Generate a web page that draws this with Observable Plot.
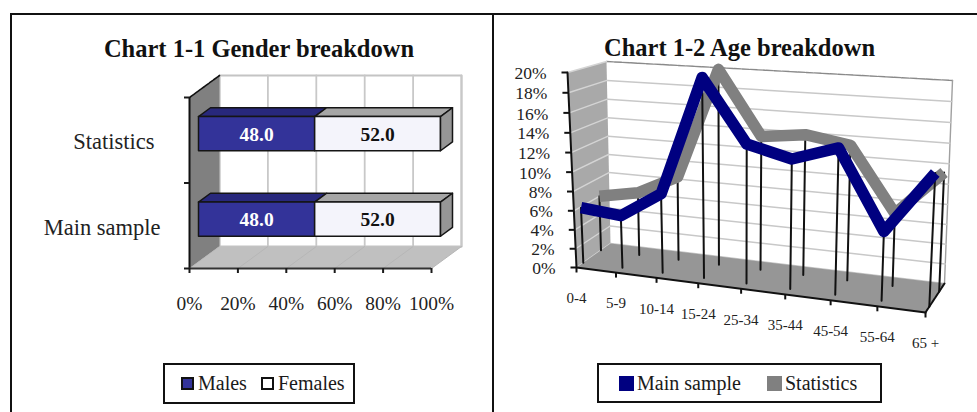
<!DOCTYPE html>
<html>
<head>
<meta charset="utf-8">
<script src="https://cdn.jsdelivr.net/npm/d3@7"></script>
<script src="https://cdn.jsdelivr.net/npm/@observablehq/plot@0.6"></script>
<style>
  html, body { margin: 0; padding: 0; background: #fff; }
  body { position: relative; width: 977px; height: 412px; overflow: hidden; font-family: "Liberation Serif", serif; color: #1a1a1a; }
  .rule { position: absolute; background: #111; }
  .panel { position: absolute; top: 0; height: 412px; }
  .panel svg { display: block; background: transparent; }
  .title { position: absolute; font-weight: bold; font-size: 24.5px; line-height: 26px; white-space: nowrap; transform: translateX(-50%); color: #111; }
  .legend { position: absolute; border: 2px solid #111; box-sizing: border-box; background: #fff; }
  .legend span { position: absolute; white-space: nowrap; font-size: 20px; line-height: 22px; }
  .legend i { position: absolute; box-sizing: border-box; display: block; }
</style>
</head>
<body>
<script>
// ---- Gender breakdown ----
const genderCategories = ["Main sample", "Statistics"];
const maleShares = [48.0, 48.0];
const femaleShares = [52.0, 52.0];
const shareTicks = [0, 20, 40, 60, 80, 100];

// ---- Age breakdown ----
const ageGroups = ["0-4", "5-9", "10-14", "15-24", "25-34", "35-44", "45-54", "55-64", "65 +"];
const mainSample = [5.9, 5.5, 8.2, 20.0, 13.9, 12.8, 14.2, 6.7, 12.6];
const statistics = [6.0, 6.8, 8.9, 20.2, 13.8, 14.3, 13.6, 7.3, 11.7];
const percentTicks = [0, 2, 4, 6, 8, 10, 12, 14, 16, 18, 20];

const serif = "Liberation Serif";

// Oblique depth for the stacked bars, expressed in axis units.
const depthX = 30 / 2.42;
const depthY = 22 / 85.5;
const px = p => p.v + p.d * depthX;
const py = p => p.c + p.d * depthY;
const face = (pts, options) => Plot.line(pts, {x: px, y: py, curve: "linear-closed", ...options});
const edge = (pts, options) => Plot.line(pts, {x: px, y: py, ...options});
const pt = (v, c, d) => ({v, c, d});

const barHalf = 0.2, barFront = 0.3, barBack = 0.7;

function barMarks(from, to, c, frontFill, topFill) {
  const lo = c - barHalf, hi = c + barHalf;
  const stroke = {stroke: "#151515", strokeWidth: 1.5, strokeLinejoin: "round"};
  return [
    face([pt(from, hi, barFront), pt(to, hi, barFront), pt(to, hi, barBack), pt(from, hi, barBack)], {fill: topFill, ...stroke}),
    face([pt(from, lo, barFront), pt(to, lo, barFront), pt(to, hi, barFront), pt(from, hi, barFront)], {fill: frontFill, ...stroke})
  ];
}

const genderMarks = [
  // back wall, side wall and floor
  face([pt(0, 0, 1), pt(100, 0, 1), pt(100, 2, 1), pt(0, 2, 1)], {fill: "#fff", stroke: "#c4c4c4", strokeWidth: 2}),
  ...shareTicks.map(t => edge([pt(t, 0, 1), pt(t, 2, 1)], {stroke: "#c8c8c8", strokeWidth: 1.8})),
  face([pt(0, 0, 0), pt(0, 0, 1), pt(0, 2, 1), pt(0, 2, 0)], {fill: "#808080"}),
  face([pt(0, 0, 0), pt(100, 0, 0), pt(100, 0, 1), pt(0, 0, 1)], {fill: "#c0c0c0"}),
  ...shareTicks.map(t => edge([pt(t, 0, 0), pt(t, 0, 1)], {stroke: "#b6b6b6", strokeWidth: 1})),
  // stacked bars
  ...genderCategories.flatMap((name, i) => {
    const c = i + 0.5, m = maleShares[i], f = femaleShares[i];
    return [
      ...barMarks(0, m, c, "#333399", "#28287c"),
      ...barMarks(m, m + f, c, "#f4f4fb", "#a6a6a6"),
      face([pt(m + f, c - barHalf, barFront), pt(m + f, c - barHalf, barBack), pt(m + f, c + barHalf, barBack), pt(m + f, c + barHalf, barFront)],
           {fill: "#969696", stroke: "#151515", strokeWidth: 1.5, strokeLinejoin: "round"}),
      Plot.text([pt(m / 2, c, barFront)], {x: px, y: py, text: () => m.toFixed(1), fill: "#fff", fontWeight: "bold", fontSize: 19.5, dy: 1}),
      Plot.text([pt(m + f / 2, c, barFront)], {x: px, y: py, text: () => f.toFixed(1), fill: "#111", fontWeight: "bold", fontSize: 19.5, dy: 1})
    ];
  }),
  // axes
  edge([pt(0, 2, 0), pt(0, 2, 1)], {stroke: "#111", strokeWidth: 1.6, strokeDasharray: "4 1"}),
  Plot.ruleX([0], {y1: 0, y2: 2, stroke: "#111", strokeWidth: 2}),
  Plot.ruleY([0], {stroke: "#333", strokeWidth: 2}),
  Plot.axisY({ticks: [0, 1, 2], tickFormat: () => "", tickSize: 5, strokeWidth: 2, anchor: "left", label: null}),
  Plot.axisX({ticks: shareTicks, tickFormat: d => d + "%", tickSize: 5, tickPadding: 23, strokeWidth: 2, fontSize: 19.4, label: null, fill: "#222"}),
  ...genderCategories.map((name, i) =>
    Plot.text([name], {x: () => 0, y: () => i + 0.5, text: d => d, textAnchor: "end", dx: i === 0 ? -29 : -35, dy: 2, fontSize: 22.5, fill: "#222"}))
];

// ---- Perspective box for the age chart; u runs along the ages, v up the percentages, d into the depth ----
const box = {
  frontLow: [[576, 267], [925, 312]],
  frontHigh: [[567, 72], [935, 93]],
  backLow: [[610, 243], [944, 283]],
  backHigh: [[606, 61], [952, 80]]
};
const mix = (a, b, t) => [a[0] + (b[0] - a[0]) * t, a[1] + (b[1] - a[1]) * t];
const foreshorten = (t, k) => t / (t + k * (1 - t));
function project(u, v, d) {
  const uu = foreshorten(u, 1.12), vv = foreshorten(v, 1.045);
  const low = mix(mix(box.frontLow[0], box.backLow[0], d), mix(box.frontLow[1], box.backLow[1], d), uu);
  const high = mix(mix(box.frontHigh[0], box.backHigh[0], d), mix(box.frontHigh[1], box.backHigh[1], d), uu);
  return mix(low, high, vv);
}
const qx = p => project(p.u, p.v / 20, p.d)[0];
const qy = p => project(p.u, p.v / 20, p.d)[1];
const q = (u, v, d) => ({u, v, d});
const agePoint = (i, v, d) => q(i / (ageGroups.length - 1), v, d);
const qface = (pts, options) => Plot.line(pts, {x: qx, y: qy, curve: "linear-closed", ...options});
const qline = (pts, options) => Plot.line(pts, {x: qx, y: qy, ...options});

const mainDepth = 0.2, statsDepth = 0.72;
const drops = (values, d) => values.map((v, i) =>
  qline([agePoint(i, 0, d), agePoint(i, v, d)], {stroke: "#111", strokeWidth: 2}));
const ribbon = (values, d, stroke) =>
  qline(values.map((v, i) => agePoint(i, v, d)), {stroke, strokeWidth: 11.5, strokeLinejoin: "round", strokeLinecap: "butt"});

const ageMarks = [
  // walls and floor
  qface([q(0, 0, 1), q(1, 0, 1), q(1, 20, 1), q(0, 20, 1)], {fill: "#fff"}),
  qline([q(0, 20, 1), q(1, 20, 1)], {stroke: "#8a8a8a", strokeWidth: 1.4, strokeDasharray: "7 1"}),
  qline([q(1, 20, 1), q(1, 0, 1)], {stroke: "#a0a0a0", strokeWidth: 1.4}),
  ...percentTicks.slice(0, -1).map(t => qline([q(0, t, 1), q(1, t, 1)], {stroke: "#c8c8c8", strokeWidth: 1.5})),
  qface([q(0, 0, 0), q(0, 0, 1), q(0, 20, 1), q(0, 20, 0)], {fill: "#a9a9a9"}),
  ...percentTicks.map(t => qline([q(0, t, 0), q(0, t, 1)], {stroke: "#d4d4d4", strokeWidth: 1.4})),
  qface([q(0, 0, 0), q(1, 0, 0), q(1, 0, 1), q(0, 0, 1)], {fill: "#969696"}),
  // series, farthest first
  ...drops(statistics, statsDepth),
  ribbon(statistics, statsDepth, "#808080"),
  ...drops(mainSample, mainDepth),
  ribbon(mainSample, mainDepth, "#000080"),
  // axes
  qline([q(0, 0, 0), q(0, 20, 0)], {stroke: "#111", strokeWidth: 2}),
  qline([q(0, 0, 0), q(1, 0, 0)], {stroke: "#111", strokeWidth: 2}),
  qline([q(1, 0, 0), q(1, 0, 1)], {stroke: "#111", strokeWidth: 2, strokeDasharray: "5 1"}),
  Plot.link(percentTicks, {x1: t => qx(q(0, t, 0)), x2: t => qx(q(0, t, 0)) - 6, y1: t => qy(q(0, t, 0)), y2: t => qy(q(0, t, 0)), stroke: "#111", strokeWidth: 2}),
  Plot.text(percentTicks, {x: t => qx(q(0, t, 0)), y: t => qy(q(0, t, 0)), text: t => t + "%", textAnchor: "end", dx: -21, dy: 1, fontSize: 17.5, fill: "#222"}),
  Plot.link(ageGroups, {x1: (_, i) => qx(agePoint(i, 0, 0)), x2: (_, i) => qx(agePoint(i, 0, 0)), y1: (_, i) => qy(agePoint(i, 0, 0)), y2: (_, i) => qy(agePoint(i, 0, 0)) + 5, stroke: "#111", strokeWidth: 2}),
  Plot.text(ageGroups, {x: (_, i) => qx(agePoint(i, 0, 0)), y: (_, i) => qy(agePoint(i, 0, 0)), text: d => d, dy: 31, fontSize: 15, fill: "#222"})
];

// ---- Page assembly ----
function addRule(left, top, width, height) {
  const el = document.createElement("div");
  el.className = "rule";
  el.style.cssText = `left:${left}px;top:${top}px;width:${width}px;height:${height}px`;
  document.body.append(el);
}
function addPanel(left, plot) {
  const el = document.createElement("div");
  el.className = "panel";
  el.style.left = left + "px";
  el.append(plot);
  document.body.append(el);
}
function addTitle(text, center, top) {
  const el = document.createElement("div");
  el.className = "title";
  el.textContent = text;
  el.style.left = center + "px";
  el.style.top = top + "px";
  document.body.append(el);
}
function addLegend(left, top, width, height, entries) {
  const el = document.createElement("div");
  el.className = "legend";
  el.style.cssText = `left:${left}px;top:${top}px;width:${width}px;height:${height}px`;
  for (const e of entries) {
    const swatch = document.createElement("i");
    swatch.style.cssText = `left:${e.swatch - left - 2}px;top:${e.swatchTop - top - 2}px;width:${e.size}px;height:${e.size}px;background:${e.color};border:${e.border}`;
    const label = document.createElement("span");
    label.textContent = e.label;
    label.style.left = (e.text - left - 2) + "px";
    label.style.top = "7px";
    el.append(swatch, label);
  }
  document.body.append(el);
}

addPanel(0, Plot.plot({
  width: 492, height: 412,
  marginLeft: 189, marginRight: 61, marginTop: 97, marginBottom: 144,
  style: {fontFamily: serif, background: "transparent", overflow: "visible"},
  x: {type: "linear", domain: [0, 100]},
  y: {type: "linear", domain: [0, 2]},
  marks: genderMarks
}));
addPanel(493, Plot.plot({
  width: 484, height: 412,
  margin: 0,
  style: {fontFamily: serif, background: "transparent", overflow: "visible"},
  x: {type: "linear", domain: [493, 977], range: [0, 484], axis: null},
  y: {type: "linear", domain: [0, 412], range: [0, 412], axis: null},
  marks: ageMarks
}));

addRule(10, 13, 967, 2);
addRule(10, 13, 2, 399);
addRule(492, 13, 2, 399);

addTitle("Chart 1-1 Gender breakdown", 259, 36);
addTitle("Chart 1-2 Age breakdown", 739.5, 35);

addLegend(163, 363, 192, 41, [
  {label: "Males", text: 198, swatch: 181, swatchTop: 377, size: 13, color: "#333399", border: "2px solid #111"},
  {label: "Females", text: 278, swatch: 261, swatchTop: 377, size: 13, color: "#fff", border: "2px solid #111"}
]);
addLegend(597, 363, 285, 40, [
  {label: "Main sample", text: 637, swatch: 619, swatchTop: 376, size: 15, color: "#000080", border: "none"},
  {label: "Statistics", text: 785, swatch: 767, swatchTop: 376, size: 15, color: "#808080", border: "none"}
]);
</script>
</body>
</html>
